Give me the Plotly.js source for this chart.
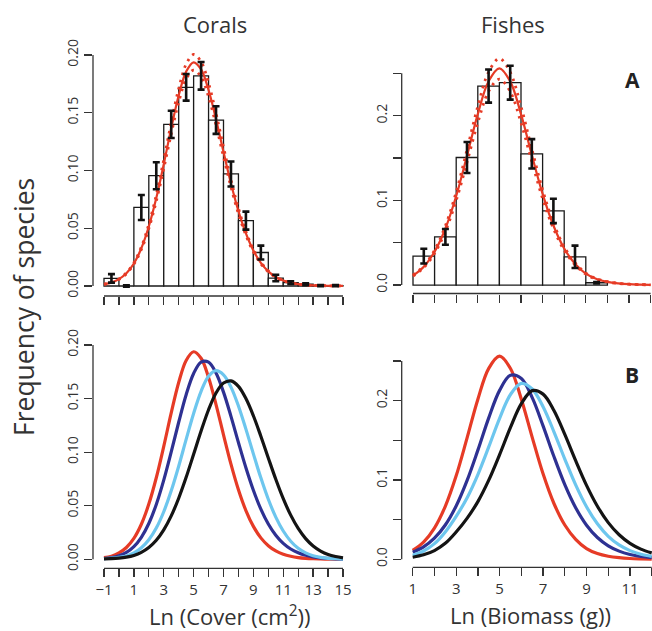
<!DOCTYPE html>
<html><head><meta charset="utf-8">
<script src="https://cdn.plot.ly/plotly-3.0.1.min.js"></script>
<style>html,body{margin:0;padding:0;background:#fff}#chart{width:652px;height:631px}</style>
</head><body><div id="chart"></div>
<script>
// ---------- data ----------
const coralBins = [-0.5,0.5,1.5,2.5,3.5,4.5,5.5,6.5,7.5,8.5,9.5,10.5,11.5,12.5,13.5,14.5];
const coralFreq = [0.0066,0,0.068,0.0955,0.140,0.172,0.182,0.1437,0.097,0.0566,0.029,0.0069,0.0029,0.0015,0.0003,0.0003];
const coralErr  = [0.0037,0.0005,0.0108,0.0117,0.0118,0.0115,0.012,0.012,0.0108,0.0078,0.006,0.0028,0.0012,0.0008,0.0005,0.0005];

const fishBins = [1.5,2.5,3.5,4.5,5.5,6.5,7.5,8.5,9.5];
const fishFreq = [0.0341,0.0569,0.1506,0.235,0.239,0.155,0.0875,0.0333,0.0027];
const fishErr  = [0.0087,0.0093,0.0183,0.0196,0.02,0.0173,0.0144,0.0132,0.0008];

const coralX = [-1,-0.5,0,0.5,1,1.5,2,2.5,3,3.5,4,4.5,5,5.5,6,6.5,7,7.5,8,8.5,9,9.5,10,10.5,11,11.5,12,12.5,13,13.5,14,14.5,15];
const coralRed = [0.0015,0.0029,0.0059,0.011,0.0195,0.0327,0.0515,0.0761,0.1054,0.1366,0.165,0.1856,0.1937,0.1876,0.1697,0.1444,0.1162,0.0888,0.0649,0.0455,0.0307,0.02,0.0127,0.0078,0.0047,0.0028,0.0016,0.0009,0.0005,0.0003,0.0002,0.0001,0.0001];
const coralRedUpper = [0.0016,0.003,0.0061,0.0114,0.0202,0.0338,0.0533,0.0788,0.1091,0.1414,0.1708,0.1921,0.2005,0.1942,0.1756,0.1495,0.1203,0.0919,0.0672,0.0471,0.0318,0.0207,0.0131,0.0081,0.0049,0.0029,0.0017,0.0009,0.0005,0.0003,0.0002,0.0001,0.0001];
const coralRedLower = [0.0014,0.0028,0.0057,0.0106,0.0188,0.0316,0.0497,0.0734,0.1017,0.1318,0.1592,0.1791,0.1869,0.181,0.1638,0.1393,0.1121,0.0857,0.0626,0.0439,0.0296,0.0193,0.0123,0.0075,0.0045,0.0027,0.0015,0.0009,0.0005,0.0003,0.0002,0.0001,0.0001];
const coralNavy = [0.0007,0.0016,0.0033,0.0064,0.0118,0.0205,0.0334,0.0512,0.0739,0.1002,0.1279,0.1536,0.1734,0.1841,0.184,0.1738,0.156,0.1334,0.109,0.0855,0.0645,0.0469,0.033,0.0225,0.0149,0.0096,0.0061,0.0037,0.0022,0.0013,0.0008,0.0004,0.0002];
const coralLightBlue = [0.0007,0.0011,0.0019,0.0031,0.0059,0.0107,0.0182,0.0292,0.0444,0.0639,0.0869,0.1119,0.1361,0.1568,0.1708,0.176,0.1722,0.1607,0.1431,0.1215,0.0984,0.076,0.056,0.0394,0.0264,0.0169,0.0103,0.006,0.0033,0.0018,0.0009,0.0005,0.0002];
const coralBlack = [0.0004,0.0006,0.0011,0.002,0.0036,0.0064,0.0109,0.0177,0.0274,0.0405,0.057,0.0765,0.098,0.1197,0.1396,0.1552,0.1645,0.1665,0.1614,0.15,0.134,0.1149,0.0946,0.0747,0.0566,0.0412,0.0288,0.0193,0.0124,0.0077,0.0045,0.0026,0.0014];

const fishX = [1,1.5,2,2.5,3,3.5,4,4.5,5,5.5,6,6.5,7,7.5,8,8.5,9,9.5,10,10.5,11,11.5,12];
const fishRed = [0.0112,0.0217,0.0394,0.0668,0.1052,0.1527,0.2018,0.2407,0.256,0.2405,0.2018,0.1537,0.1077,0.0703,0.0432,0.0252,0.0135,0.0072,0.0038,0.002,0.001,0.0005,0.0002];
const fishRedUpper = [0.0117,0.0227,0.0412,0.0698,0.1099,0.1596,0.2109,0.2515,0.2675,0.2513,0.2109,0.1606,0.1125,0.0735,0.0451,0.0263,0.0141,0.0075,0.004,0.0021,0.001,0.0005,0.0002];
const fishRedLower = [0.0106,0.0206,0.0374,0.0635,0.0999,0.1451,0.1917,0.2287,0.2432,0.2285,0.1917,0.146,0.1023,0.0668,0.041,0.0239,0.0128,0.0068,0.0036,0.0019,0.001,0.0005,0.0002];
const fishNavy = [0.009,0.0157,0.0266,0.0432,0.0672,0.0991,0.1376,0.1782,0.2129,0.2319,0.2278,0.2038,0.1682,0.1295,0.0941,0.065,0.043,0.0275,0.017,0.0103,0.0061,0.0035,0.002];
const fishLightBlue = [0.0051,0.0104,0.0197,0.0345,0.0541,0.0773,0.1068,0.1416,0.1777,0.2077,0.2217,0.2146,0.1923,0.1607,0.1263,0.0938,0.0662,0.0447,0.0289,0.0181,0.0109,0.0064,0.0037];
const fishBlack = [0.0026,0.0056,0.011,0.0201,0.0344,0.0516,0.0727,0.0997,0.1319,0.1662,0.1961,0.2126,0.2082,0.1876,0.1574,0.1243,0.0932,0.0669,0.0462,0.0309,0.0201,0.0128,0.008];

const coralXTicks = [-1,0,1,2,3,4,5,6,7,8,9,10,11,12,13,14,15];
const coralXLabels = ['\u22121','','1','','3','','5','','7','','9','','11','','13','','15'];
const fishXTicks = [1,2,3,4,5,6,7,8,9,10,11,12];
const fishXLabels = ['1','','3','','5','','7','','9','','11',''];
const coralYTicks = [0,0.05,0.10,0.15,0.20];
const coralYLabels = ['0.00','0.05','0.10','0.15','0.20'];
const fishYTicks = [0,0.05,0.10,0.15,0.20,0.25];
const fishYLabels = ['0.0','','0.1','','0.2',''];

const colTitles = ['Corals','Fishes'];
const panelLetters = ['A','B'];
const xTitles = ['Ln (Cover (cm<sup>2</sup>))','Ln (Biomass (g))'];
const yTitle = 'Frequency of species';

// ---------- styles ----------
const RED = '#e63b26', NAVY = '#2e3192', LBLUE = '#6dc6ee', BLACK = '#141414';
const AXC = '#333333';
const W = 652, H = 631;
const px = v => v / W;
const py = v => (H - v) / H;

const traces = [];
function hist(bins, freq, xa, ya) {
  traces.push({type:'bar', x:bins, y:freq, width:1, xaxis:xa, yaxis:ya,
    marker:{color:'#ffffff', line:{color:'#1a1a1a', width:1.3}}, hoverinfo:'skip', showlegend:false});
}
function errs(bins, freq, err, xa, ya) {
  traces.push({type:'scatter', mode:'markers', x:bins, y:freq, xaxis:xa, yaxis:ya,
    marker:{size:1, color:'rgba(0,0,0,0)'},
    error_y:{type:'data', array:err, symmetric:true, color:'#111111', thickness:2.6, width:3.5},
    hoverinfo:'skip', showlegend:false, cliponaxis:false});
}
function curve(x, y, xa, ya, color, width, dash) {
  traces.push({type:'scatter', mode:'lines', x:x, y:y, xaxis:xa, yaxis:ya,
    line:{color:color, width:width, shape:'spline', smoothing:1, dash:dash||'solid'},
    hoverinfo:'skip', showlegend:false});
}

// panel A corals
hist(coralBins, coralFreq, 'x', 'y');
curve(coralX, coralRedUpper, 'x', 'y', RED, 2.8, '2.5px,5px');
curve(coralX, coralRedLower, 'x', 'y', RED, 2.8, '2.5px,5px');
curve(coralX, coralRed, 'x', 'y', RED, 2.2);
errs(coralBins, coralFreq, coralErr, 'x', 'y');
// panel A fishes
hist(fishBins, fishFreq, 'x2', 'y2');
curve(fishX, fishRedUpper, 'x2', 'y2', RED, 2.8, '2.5px,5px');
curve(fishX, fishRedLower, 'x2', 'y2', RED, 2.8, '2.5px,5px');
curve(fishX, fishRed, 'x2', 'y2', RED, 2.2);
errs(fishBins, fishFreq, fishErr, 'x2', 'y2');
// panel B corals
curve(coralX, coralRed, 'x3', 'y3', RED, 3.2);
curve(coralX, coralNavy, 'x3', 'y3', NAVY, 3.2);
curve(coralX, coralLightBlue, 'x3', 'y3', LBLUE, 3.2);
curve(coralX, coralBlack, 'x3', 'y3', BLACK, 3.2);
// panel B fishes
curve(fishX, fishRed, 'x4', 'y4', RED, 3.2);
curve(fishX, fishNavy, 'x4', 'y4', NAVY, 3.2);
curve(fishX, fishLightBlue, 'x4', 'y4', LBLUE, 3.2);
curve(fishX, fishBlack, 'x4', 'y4', BLACK, 3.2);

const fontFam = '"Open Sans", "Noto Sans", Arial, sans-serif';
function xAx(domain, range, vals, text, showLab, anchor) {
  return {domain:domain, range:range, anchor:anchor, tickmode:'array', tickvals:vals, ticktext:text,
    showticklabels:showLab, ticks:'outside', ticklen:8, tickwidth:1.3, tickcolor:AXC,
    showline:false, showgrid:false, zeroline:false, fixedrange:true,
    tickfont:{size:15, color:AXC, family:fontFam}};
}
function yAx(domain, range, vals, text, anchor) {
  return {domain:domain, range:range, anchor:anchor, tickmode:'array', tickvals:vals, ticktext:text,
    ticks:'outside', ticklen:8, tickwidth:1.3, tickcolor:AXC, tickangle:-90,
    showline:false, showgrid:false, zeroline:false, fixedrange:true,
    tickfont:{size:14, color:AXC, family:fontFam}};
}

const leftX = [px(93), px(354)];
const rightX = [px(401.7), 1];
const layout = {
  width:W, height:H, margin:{l:0,r:0,t:0,b:0},
  paper_bgcolor:'#ffffff', plot_bgcolor:'rgba(0,0,0,0)',
  font:{family:fontFam, color:AXC},
  showlegend:false,
  xaxis: xAx(leftX, [-1.736, 15.736], coralXTicks, coralXLabels, false, 'y'),
  yaxis: yAx([py(296), py(40)], [-0.00866, 0.213], coralYTicks, coralYLabels, 'x'),
  xaxis2: xAx(rightX, [0.477, 12.065], fishXTicks, fishXLabels, false, 'y2'),
  yaxis2: yAx([py(293.5), py(40)], [-0.01, 0.2894], fishYTicks, fishYLabels, 'x2'),
  xaxis3: xAx(leftX, [-1.736, 15.736], coralXTicks, coralXLabels, true, 'y3'),
  yaxis3: yAx([py(568.3), py(330)], [-0.0084, 0.214], coralYTicks, coralYLabels, 'x3'),
  xaxis4: xAx(rightX, [0.4938, 12.013], fishXTicks, fishXLabels, true, 'y4'),
  yaxis4: yAx([py(567.3), py(330)], [-0.0101, 0.289], fishYTicks, fishYLabels, 'x4'),
  shapes: [],
  annotations: []
};
const axLine = {color:AXC, width:1.3};
[['x','y',-1,15,0.2],['x2','y2',1,12,0.25],['x3','y3',-1,15,0.2],['x4','y4',1,12,0.25]].forEach(a => {
  layout.shapes.push({type:'line', xref:a[0], yref:a[1]+' domain', x0:a[2], x1:a[3], y0:0, y1:0, line:axLine});
  layout.shapes.push({type:'line', xref:a[0]+' domain', yref:a[1], x0:0, x1:0, y0:0, y1:a[4], line:axLine});
});
const ann = (text, x, y, size, opts) => Object.assign({text:text, xref:'paper', yref:'paper', x:px(x), y:py(y),
  showarrow:false, xanchor:'center', yanchor:'middle', font:{size:size, color:AXC, family:fontFam}}, opts||{});
layout.annotations.push(ann(colTitles[0], 215, 24, 22));
layout.annotations.push(ann(colTitles[1], 513, 24, 22));
layout.annotations.push(ann(yTitle, 24, 307, 26.5, {textangle:-90}));
layout.annotations.push(ann(xTitles[0], 230, 615, 22));
layout.annotations.push(ann(xTitles[1], 530, 615, 22));
layout.annotations.push(ann('<b>'+panelLetters[0]+'</b>', 632, 80, 21, {font:{size:21, color:'#222', family:fontFam}}));
layout.annotations.push(ann('<b>'+panelLetters[1]+'</b>', 632, 375, 21, {font:{size:21, color:'#222', family:fontFam}}));

Plotly.newPlot('chart', traces, layout, {staticPlot:true, displayModeBar:false});
</script>
</body></html>
